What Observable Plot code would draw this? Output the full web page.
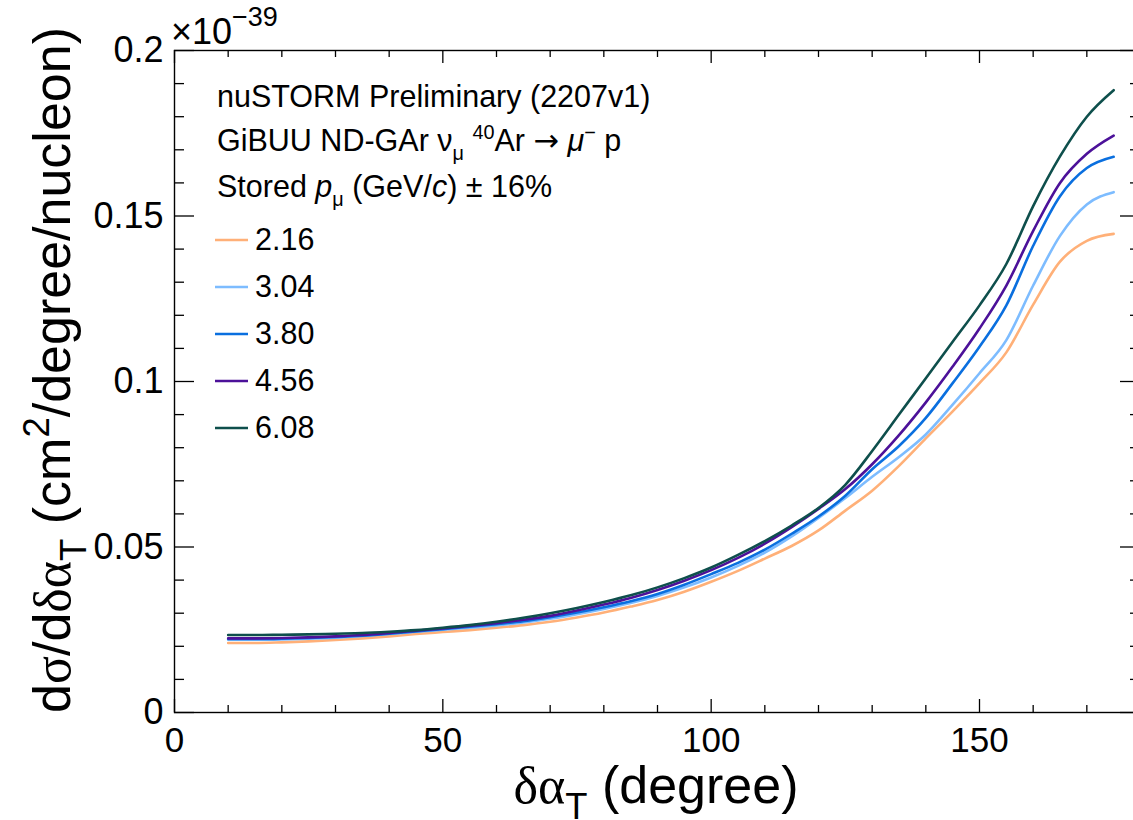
<!DOCTYPE html>
<html><head><meta charset="utf-8">
<script src="https://cdn.jsdelivr.net/npm/d3@7"></script>
<script src="https://cdn.jsdelivr.net/npm/@observablehq/plot@0.6"></script>
<style>
html,body{margin:0;padding:0;background:#fff;overflow:hidden;}
#chart{width:1133px;height:820px;overflow:hidden;position:relative;}
</style></head><body><div id="chart"></div>
<script>
// ---- data (cross-section in units of 1e-39 cm^2/degree/nucleon) ----
const angles = [10,15,20,25,30,35,40,45,50,55,60,65,70,75,80,85,90,95,100,105,110,115,120,125,130,135,140,145,150,155,160,165,170,175];
const momenta = ["2.16","3.04","3.80","4.56","6.08"];
const colors = ["#ffb078","#7dbcff","#0a6fdf","#4c1199","#0e4f4c"];
const xs216 = [0.0210,0.0210,0.0212,0.0215,0.0219,0.0224,0.0230,0.0237,0.0243,0.0249,0.0256,0.0264,0.0274,0.0287,0.0302,0.0320,0.0340,0.0365,0.0395,0.0428,0.0465,0.0503,0.0550,0.0610,0.0670,0.0745,0.0828,0.0910,0.0995,0.1088,0.1232,0.1362,0.1425,0.1446];
const xs304 = [0.0220,0.0220,0.0221,0.0223,0.0226,0.0231,0.0237,0.0244,0.0250,0.0256,0.0263,0.0272,0.0283,0.0297,0.0313,0.0331,0.0352,0.0378,0.0408,0.0443,0.0483,0.0532,0.0588,0.0648,0.0712,0.0772,0.0840,0.0930,0.1025,0.1125,0.1290,0.1440,0.1535,0.1572];
const xs380 = [0.0222,0.0222,0.0223,0.0225,0.0228,0.0232,0.0238,0.0245,0.0252,0.0259,0.0267,0.0276,0.0288,0.0302,0.0318,0.0336,0.0358,0.0386,0.0418,0.0452,0.0492,0.0540,0.0592,0.0655,0.0735,0.0805,0.0890,0.0995,0.1105,0.1230,0.1410,0.1560,0.1645,0.1679];
const xs456 = [0.0224,0.0224,0.0225,0.0227,0.0230,0.0234,0.0240,0.0247,0.0254,0.0262,0.0270,0.0280,0.0292,0.0308,0.0326,0.0346,0.0370,0.0398,0.0430,0.0467,0.0510,0.0560,0.0615,0.0675,0.0750,0.0838,0.0937,0.1045,0.1160,0.1290,0.1455,0.1600,0.1688,0.1743];
const xs608 = [0.0234,0.0234,0.0235,0.0236,0.0238,0.0240,0.0244,0.0249,0.0256,0.0264,0.0274,0.0286,0.0300,0.0316,0.0334,0.0354,0.0378,0.0406,0.0438,0.0476,0.0518,0.0565,0.0618,0.0688,0.0790,0.0900,0.1010,0.1120,0.1230,0.1355,0.1530,0.1680,0.1800,0.1880];
const seriesValues = [xs216, xs304, xs380, xs456, xs608];

const xMajor = [0,50,100,150];
const xMinor = [10,20,30,40,60,70,80,90,110,120,130,140,160,170];
const yMajor = [0,0.05,0.1,0.15,0.2];
const yMinor = [0.01,0.02,0.03,0.04,0.06,0.07,0.08,0.09,0.11,0.12,0.13,0.14,0.16,0.17,0.18,0.19];
const xLabels = ["0","50","100","150"];
const yLabels = ["0","0.05","0.1","0.15","0.2"];

const table = [];
momenta.forEach((m, i) => angles.forEach((a, j) => table.push({p: m, angle: a, xs: seriesValues[i][j]})));

// ---- layout ----
const W = 1133, H = 820, mL = 174, mR = -7, mT = 50, mB = 108;
const pw = W - mL - mR, ph = H - mT - mB;
const FONT = "'Liberation Sans', Arial, Helvetica, sans-serif";
const SERIF = "'Liberation Serif', 'Times New Roman', serif";

const plot = Plot.plot({
  width: W, height: H,
  marginLeft: mL, marginRight: mR, marginTop: mT, marginBottom: mB,
  style: {fontFamily: FONT, fontSize: "36px", color: "#000", background: "#fff", overflow: "hidden"},
  x: {domain: [0, 180], label: null},
  y: {domain: [0, 0.2], label: null},
  color: {domain: momenta, range: colors},
  marks: [
    Plot.line(table, {x: "angle", y: "xs", z: "p", stroke: "p", strokeWidth: 2.6, curve: "monotone-x"}),
    // ticks (inside the frame, ROOT style)
    Plot.tickY(yMajor, {y: d => d, insetRight: pw - 20, stroke: "#000", strokeWidth: 1.3}),
    Plot.tickY(yMinor, {y: d => d, insetRight: pw - 10, stroke: "#000", strokeWidth: 1.3}),
    Plot.tickY(yMajor, {y: d => d, insetLeft: pw - 20, stroke: "#000", strokeWidth: 1.3}),
    Plot.tickY(yMinor, {y: d => d, insetLeft: pw - 10, stroke: "#000", strokeWidth: 1.3}),
    Plot.tickX(xMajor, {x: d => d, insetTop: ph - 13, stroke: "#000", strokeWidth: 1.3}),
    Plot.tickX(xMinor, {x: d => d, insetTop: ph - 7, stroke: "#000", strokeWidth: 1.3}),
    Plot.tickX(xMajor, {x: d => d, insetBottom: ph - 13, stroke: "#000", strokeWidth: 1.3}),
    Plot.tickX(xMinor, {x: d => d, insetBottom: ph - 7, stroke: "#000", strokeWidth: 1.3}),
    Plot.axisX({ticks: xMajor, tickSize: 0, tickPadding: 15, tickFormat: (d, i) => xLabels[i], fontSize: 35, label: null}),
    Plot.axisY({ticks: yMajor, tickSize: 0, tickPadding: 11, tickFormat: (d, i) => yLabels[i], fontSize: 36, label: null}),
    Plot.frame({stroke: "#000", strokeWidth: 1.4})
  ]
});
document.getElementById("chart").appendChild(plot);

// ---- rich text helper (sub/superscripts) ----
const svg = d3.select(plot);
function rich(parent, x, y, segs, size, anchor = "start") {
  const t = parent.append("text").attr("x", x).attr("y", y)
    .attr("font-size", size).attr("font-family", FONT).attr("fill", "#000")
    .attr("text-anchor", anchor);
  let off = 0;
  for (const s of segs) {
    const target = (s.shift || 0) * size;
    const ts = t.append("tspan").text(s.t);
    if (target !== off) { ts.attr("dy", target - off); off = target; }
    if (s.scale) ts.attr("font-size", size * s.scale);
    if (s.italic) ts.attr("font-style", "italic");
    if (s.serif) ts.attr("font-family", SERIF);
    if (s.family) ts.attr("font-family", s.family);
    if (s.dx) ts.attr("dx", s.dx);
  }
  return t;
}

// exponent label
rich(svg, 171, 44, [{t: "×10"}, {t: "−39", shift: -0.5, scale: 0.75}], 36);

// x title
rich(svg, 656, 803, [
  {t: "δα", serif: true}, {t: "T", shift: 0.3, scale: 0.7}, {t: " (degree)"}
], 52, "middle");

// y title
const gy = svg.append("g").attr("transform", "translate(70,370) rotate(-90)");
rich(gy, 0, 0, [
  {t: "d"}, {t: "σ", serif: true}, {t: "/d"}, {t: "δα", serif: true},
  {t: "T", shift: 0.3, scale: 0.7}, {t: " (cm"}, {t: "2", shift: -0.4, scale: 0.7},
  {t: "/degree/nucleon)"}
], 52, "middle");

// legend header
const lx = 217, fs = 30.5;
rich(svg, lx, 107, [{t: "nuSTORM Preliminary (2207v1)"}], fs);
rich(svg, lx, 151, [
  {t: "GiBUU ND-GAr ν"}, {t: "μ", shift: 0.3, scale: 0.65}, {t: " "},
  {t: "40", shift: -0.38, scale: 0.65}, {t: "Ar "}, {t: "→", family: "'DejaVu Sans', sans-serif"}, {t: " "},
  {t: "μ", italic: true}, {t: "−", shift: -0.38, scale: 0.65}, {t: " p"}
], fs);
rich(svg, lx, 197, [
  {t: "Stored "}, {t: "p", italic: true}, {t: "μ", shift: 0.3, scale: 0.65},
  {t: " (GeV/"}, {t: "c", italic: true}, {t: ") ± 16%"}
], fs);

// legend entries
const legBase = [250, 297, 344, 391, 438];
momenta.forEach((m, i) => {
  svg.append("line").attr("x1", 215).attr("x2", 248)
    .attr("y1", legBase[i] - 10).attr("y2", legBase[i] - 10)
    .attr("stroke", colors[i]).attr("stroke-width", 2.4);
  rich(svg, 255, legBase[i], [{t: m}], fs);
});
</script></body></html>
